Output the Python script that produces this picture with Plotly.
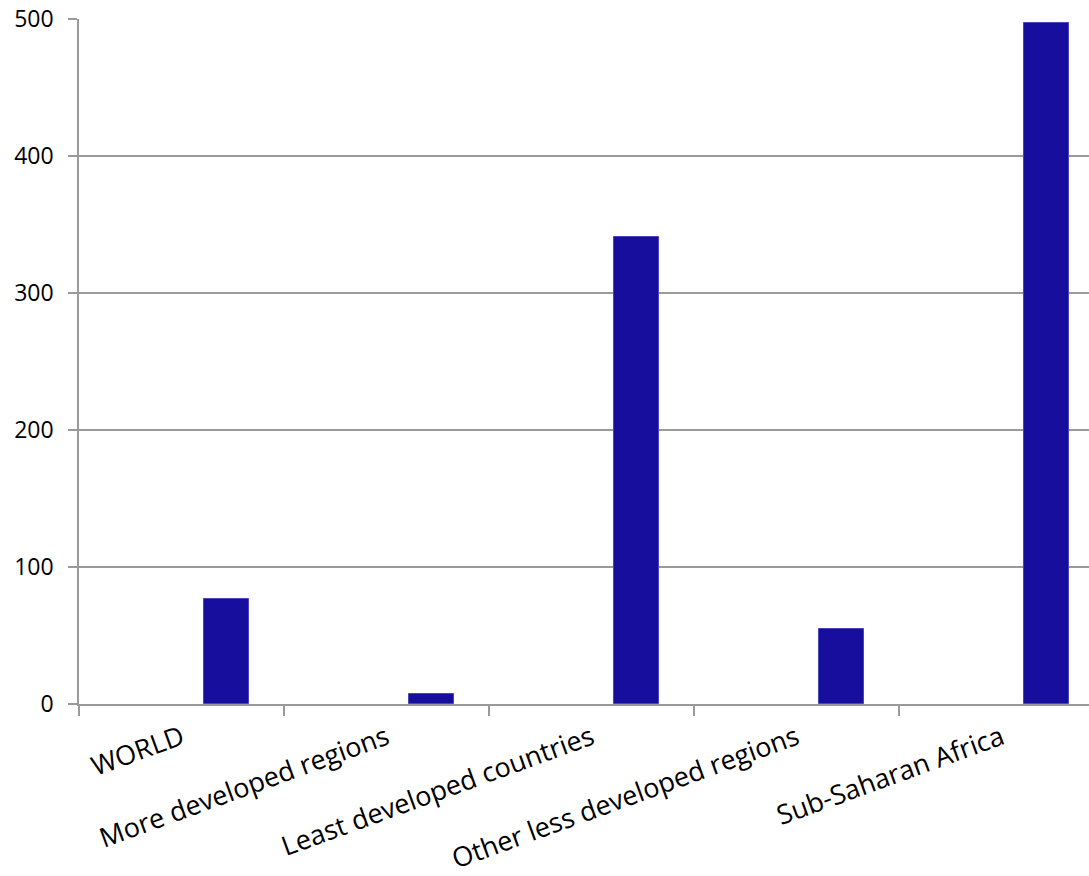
import plotly.graph_objects as go

categories = [
    "WORLD",
    "More developed regions",
    "Least developed countries",
    "Other less developed regions",
    "Sub-Saharan Africa",
]
values = [77, 7, 341, 55, 497]
y_ticks = [0, 100, 200, 300, 400, 500]

bar_color = "#170E9E"
grid_color = "#9A9A9A"
font_family = "Open Sans, Lato, sans-serif"

fig = go.Figure()
fig.add_trace(
    go.Bar(
        x=categories,
        y=values,
        width=0.22,
        offset=0.11,
        marker=dict(color=bar_color, line=dict(color="#4A44C0", width=1)),
        showlegend=False,
    )
)

fig.update_layout(
    width=1089,
    height=876,
    margin=dict(l=79, r=0, t=19, b=172),
    paper_bgcolor="white",
    plot_bgcolor="white",
    font=dict(family=font_family, color="#000000"),
    bargap=0,
)

fig.update_xaxes(
    type="category",
    range=[-0.5, 4.427],
    automargin=False,
    tickson="boundaries",
    ticks="outside",
    ticklen=10,
    tickcolor=grid_color,
    tickwidth=1.5,
    showline=True,
    linecolor=grid_color,
    linewidth=1.5,
    showgrid=False,
    tickangle=-20,
    ticklabelstandoff=6,
    tickfont=dict(size=27, family=font_family, color="#000000"),
)

fig.update_yaxes(
    range=[0, 500],
    tickvals=y_ticks,
    automargin=False,
    ticks="outside",
    ticklen=9,
    tickcolor=grid_color,
    tickwidth=1.5,
    showline=True,
    linecolor=grid_color,
    linewidth=1.5,
    showgrid=True,
    gridcolor=grid_color,
    gridwidth=1.5,
    zeroline=False,
    ticklabelstandoff=10,
    tickfont=dict(size=23, family=font_family, color="#000000"),
)

fig.write_html("out.html")
